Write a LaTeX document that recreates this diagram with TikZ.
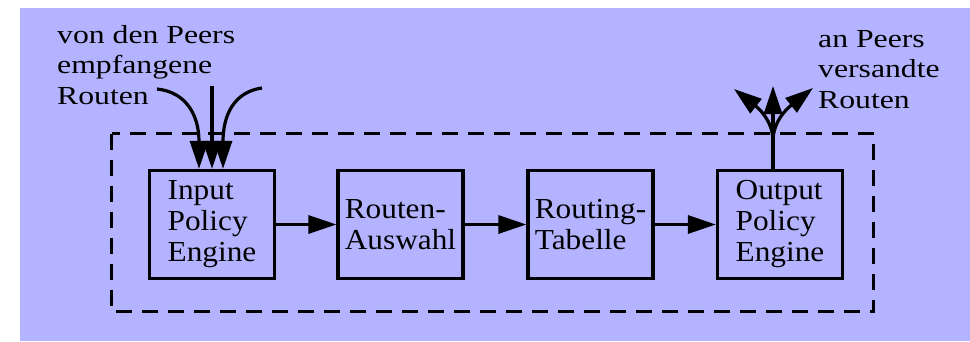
\documentclass[tikz,border=0pt]{standalone}
\usepackage{fontspec}
\setmainfont{Liberation Serif}[FakeStretch=1.22]
\newfontfamily\enginefont{Liberation Serif}[FakeStretch=1.08]
\usetikzlibrary{arrows.meta,calc}
\definecolor{bgblue}{HTML}{B3B3FF}
\begin{document}
\begin{tikzpicture}[x=1pt,y=-1pt,
  lbl/.style={font=\fontsize{26}{30.5}\selectfont, align=left, inner sep=0pt},
  engine/.style={draw, line width=3.2pt, minimum width=125pt, minimum height=108pt,
                 inner sep=0pt, font=\enginefont\fontsize{29}{31}\selectfont, align=left},
  flow/.style={line width=3.2pt, -{Triangle[length=28pt,width=18pt]}},
  frame/.style={line width=3pt, dash pattern=on 16pt off 10pt}]
  \useasboundingbox (0,0) rectangle (970,341);
  \fill[bgblue] (20,8) rectangle (970,341);

  % processing chain
  \node[engine] (in)  at (212,224.5)   {Input\\Policy\\Engine};
  \node[engine] (sel) at (400.5,224.5) {Routen-\\Auswahl};
  \node[engine] (tab) at (590.5,224.5) {Routing-\\Tabelle};
  \node[engine] (out) at (780,224.5)   {Output\\Policy\\Engine};

  % dashed boundary around the chain
  \draw[frame] (111.5,133.5) rectangle (873.5,311.5);

  \draw[flow] (in)  -- (sel);
  \draw[flow] (sel) -- (tab);
  \draw[flow] (tab) -- (out);

  % incoming routes
  \node[lbl, anchor=north west] (rx) at (57,25) {von den Peers\\empfangene\\Routen};
  \coordinate (inL) at (157,89);
  \coordinate (inM) at (212,86);
  \coordinate (inR) at (262,88);
  \draw[flow] (inL) .. controls (186,92) and (199,115) .. ($(in.north)+(-13,0)$);
  \draw[flow] (inM) -- ($(in.north)+(0,0)$);
  \draw[flow] (inR) .. controls (234,92) and (223,115) .. ($(in.north)+(11,0)$);

  % outgoing routes
  \node[lbl, anchor=north west] (tx) at (818,30) {an Peers\\versandte\\Routen};
  \coordinate (outL) at (734,89);
  \coordinate (outM) at (773,86);
  \coordinate (outR) at (813,88);
  \coordinate (stem) at ($(out.north)+(-7,0)$);
  \draw[flow] (stem) -- (outM);
  \draw[flow] (stem) -- ++(0,-28) .. controls (773,120) and (757,107) .. (outL);
  \draw[flow] (stem) -- ++(0,-28) .. controls (773,120) and (789,107) .. (outR);
\end{tikzpicture}
\end{document}
